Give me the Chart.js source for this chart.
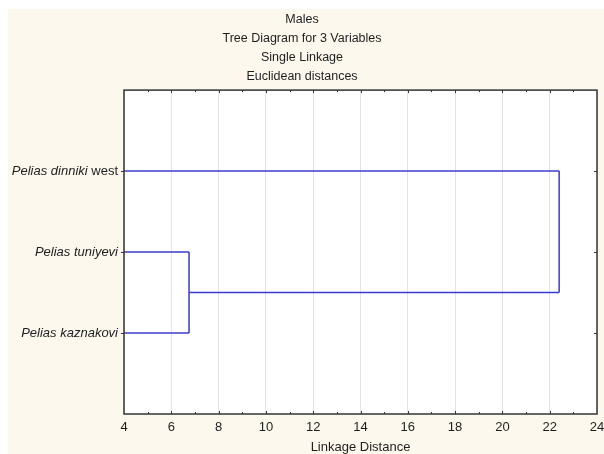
<!DOCTYPE html>
<html>
<head>
<meta charset="utf-8">
<script src="https://cdn.jsdelivr.net/npm/chart.js@4/dist/chart.umd.min.js"></script>
<style>
  html, body { margin: 0; padding: 0; background: #fff; }
  #wrap { position: absolute; left: 0; top: 0; width: 604px; height: 454px; }
</style>
</head>
<body>
<div id="wrap"><canvas id="tree" width="604" height="454"></canvas></div>
<script>
// Tree diagram (single linkage) drawn as line segments on a scatter chart

const titleLines = ['Males', 'Tree Diagram for 3 Variables', 'Single Linkage', 'Euclidean distances'];
const leafItalic = ['Pelias dinniki', 'Pelias tuniyevi', 'Pelias kaznakovi'];
const leafPlain = [' west', '', ''];
const leafPos = [1, 2, 3];            // row of each leaf, top to bottom
const mergeA = [1, 0];                // merge i joins cluster mergeA[i] ...
const mergeB = [2, 'm0'];             // ... with mergeB[i] ('m0' = result of merge 0)
const mergeDist = [6.75, 22.4];       // linkage distance of each merge
const xMin = 4, xMax = 24, xStep = 2;

const lineColor = '#3b3bcf';

// build the dendrogram segments from the merges
function buildSegments() {
    const segs = [];
    const clusters = {};
    leafPos.forEach((p, i) => { clusters[i] = { y: p, x: xMin }; });
    mergeDist.forEach((d, i) => {
        const a = clusters[mergeA[i]];
        const b = clusters[mergeB[i]];
        segs.push([{ x: a.x, y: a.y }, { x: d, y: a.y }]);
        segs.push([{ x: b.x, y: b.y }, { x: d, y: b.y }]);
        segs.push([{ x: d, y: a.y }, { x: d, y: b.y }]);
        clusters['m' + i] = { y: (a.y + b.y) / 2, x: d };
    });
    return segs;
}

const datasets = buildSegments().map(s => ({
    data: s,
    showLine: true,
    borderColor: lineColor,
    borderWidth: 1.5,
    pointRadius: 0,
    fill: false
}));

const bgPlugin = {
    id: 'bg',
    beforeDraw(chart) {
        const ctx = chart.ctx;
        ctx.save();
        ctx.fillStyle = '#fcf8ee';
        ctx.fillRect(8, 9, chart.width - 8, chart.height - 9);
        const a = chart.chartArea;
        ctx.fillStyle = '#ffffff';
        ctx.fillRect(a.left, a.top, a.right - a.left, a.bottom - a.top);
        ctx.restore();
    }
};

const framePlugin = {
    id: 'frame',
    afterDraw(chart) {
        const ctx = chart.ctx;
        const a = chart.chartArea;
        const xs = chart.scales.x, ys = chart.scales.y;
        ctx.save();
        ctx.strokeStyle = '#333333';
        ctx.lineWidth = 1.5;
        ctx.strokeRect(a.left, a.top, a.right - a.left, a.bottom - a.top);
        ctx.lineWidth = 1;
        ctx.beginPath();
        for (let v = xMin + 1; v < xMax; v++) {
            const px = Math.round(xs.getPixelForValue(v)) + 0.5;
            const len = v % xStep === 0 ? 3 : 2;
            ctx.moveTo(px, a.top); ctx.lineTo(px, a.top + len);
            ctx.moveTo(px, a.bottom); ctx.lineTo(px, a.bottom - len);
        }
        leafPos.forEach(p => {
            const py = Math.round(ys.getPixelForValue(p)) + 0.5;
            ctx.moveTo(a.left - 3, py); ctx.lineTo(a.left, py);
            ctx.moveTo(a.right, py); ctx.lineTo(a.right - 3, py);
        });
        ctx.stroke();

        // leaf labels: species name in italics, suffix upright
        ctx.fillStyle = '#1e1e1e';
        ctx.textBaseline = 'middle';
        leafPos.forEach((p, i) => {
            const py = ys.getPixelForValue(p);
            const right = a.left - 6;
            ctx.font = '13px "Liberation Sans", Arial, sans-serif';
            const wPlain = ctx.measureText(leafPlain[i]).width;
            ctx.textAlign = 'right';
            ctx.fillText(leafPlain[i], right, py);
            ctx.font = 'italic 13px "Liberation Sans", Arial, sans-serif';
            ctx.fillText(leafItalic[i], right - wPlain, py);
        });
        ctx.restore();
    }
};

new Chart(document.getElementById('tree'), {
    type: 'scatter',
    data: { datasets },
    options: {
        responsive: false,
        animation: false,
        layout: { padding: { left: 0, right: 0, top: 0, bottom: 0 } },
        plugins: {
            legend: { display: false },
            tooltip: { enabled: false },
            title: {
                display: true,
                text: titleLines,
                color: '#1e1e1e',
                font: { family: '"Liberation Sans", Arial, sans-serif', size: 12.5, weight: 'normal', lineHeight: 1.5 },
                padding: { top: 10.6, bottom: 4.5 }
            }
        },
        scales: {
            x: {
                type: 'linear',
                min: xMin,
                max: xMax,
                ticks: {
                    stepSize: xStep,
                    color: '#1e1e1e',
                    padding: 6,
                    font: { family: '"Liberation Sans", Arial, sans-serif', size: 13 }
                },
                grid: { color: '#e4e4e4', lineWidth: 1, drawTicks: false },
                border: { display: false },
                title: {
                    display: true,
                    text: 'Linkage Distance',
                    color: '#1e1e1e',
                    font: { family: '"Liberation Sans", Arial, sans-serif', size: 13, lineHeight: 1 },
                    padding: { top: 0, bottom: 0 }
                },
                afterFit: s => { s.height = 40; s.paddingLeft = 0; s.paddingRight = 7; }
            },
            y: {
                type: 'linear',
                min: 0,
                max: leafPos.length + 1,
                reverse: true,
                ticks: { display: false },
                grid: { display: false, drawTicks: false },
                border: { display: false },
                afterFit: s => { s.width = 124; }
            }
        }
    },
    plugins: [bgPlugin, framePlugin]
});
</script>
</body>
</html>
